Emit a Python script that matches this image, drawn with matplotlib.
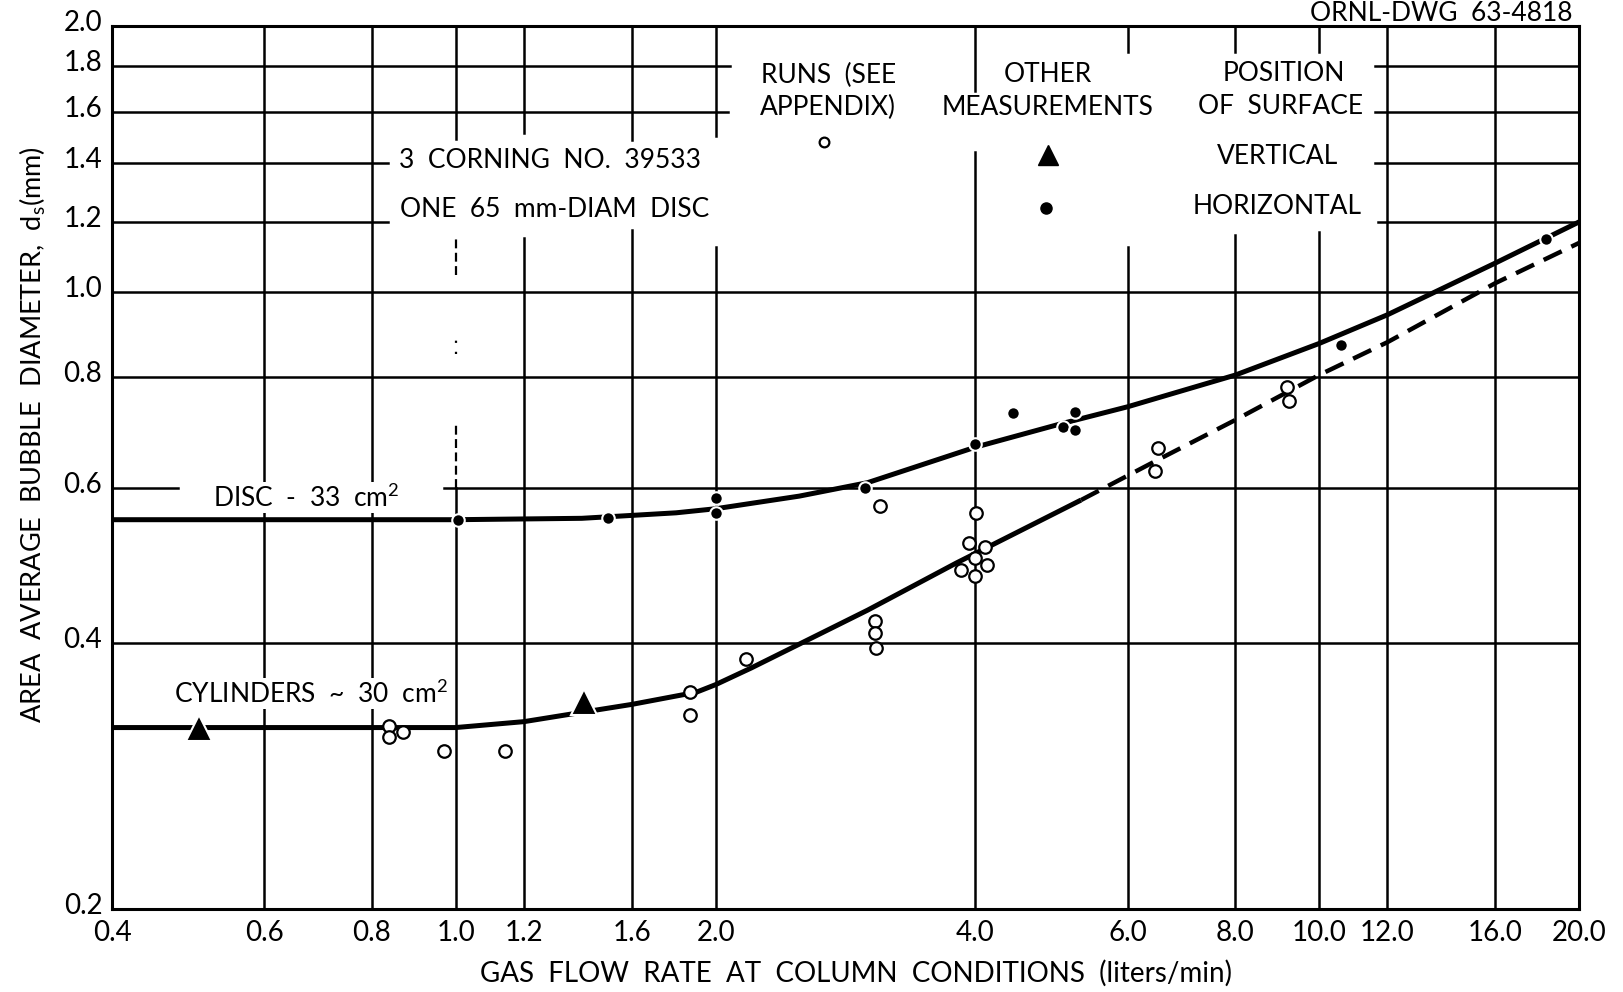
import matplotlib.pyplot as plt
from matplotlib.ticker import FixedLocator, FixedFormatter, NullLocator
from matplotlib.transforms import ScaledTranslation

plt.rcParams['font.family'] = ['Lato', 'DejaVu Sans']
plt.rcParams['mathtext.fontset'] = 'custom'
plt.rcParams['mathtext.rm'] = 'Lato'

# data (liters/min, mm)
disc_x = [0.4, 1.0, 1.4, 1.8, 2.0, 2.5, 3.0, 4.0, 5.0, 6.0, 8.0, 10.0, 12.0, 16.0, 20.0]
disc_y = [0.552, 0.552, 0.554, 0.562, 0.568, 0.587, 0.608, 0.667, 0.708, 0.741, 0.805, 0.874, 0.942, 1.078, 1.20]

cyl_x = [0.4, 1.0, 1.2, 1.4, 1.6, 1.9, 2.0, 2.2, 2.5, 3.0, 3.8, 4.3, 5.3]
cyl_y = [0.321, 0.321, 0.326, 0.334, 0.341, 0.352, 0.359, 0.375, 0.399, 0.436, 0.493, 0.524, 0.581]
cyl_ext_x = [5.3, 6.5, 8.0, 10.0, 12.0, 16.0, 20.0]
cyl_ext_y = [0.581, 0.645, 0.716, 0.805, 0.877, 1.023, 1.136]

runs_x = [0.837, 0.837, 0.869, 0.969, 1.14, 1.87, 1.87, 2.17, 3.10, 3.06, 3.06, 3.07,
          4.01, 3.93, 4.10, 3.99, 3.85, 4.12, 4.00, 6.50, 6.46, 9.19, 9.22]
runs_y = [0.322, 0.313, 0.317, 0.302, 0.302, 0.352, 0.332, 0.384, 0.572, 0.424, 0.411, 0.395,
          0.562, 0.520, 0.514, 0.500, 0.484, 0.490, 0.477, 0.666, 0.626, 0.781, 0.752]

horiz_x = [1.006, 1.50, 2.0, 2.0, 2.98, 4.0, 4.42, 5.05, 5.22, 5.21, 10.6, 18.3]
horiz_y = [0.552, 0.555, 0.584, 0.562, 0.600, 0.673, 0.729, 0.703, 0.731, 0.698, 0.871, 1.148]

vert_x = [0.505, 1.41]
vert_y = [0.321, 0.343]

x_ticks = [0.4, 0.6, 0.8, 1.0, 1.2, 1.6, 2.0, 4.0, 6.0, 8.0, 10.0, 12.0, 16.0, 20.0]
y_ticks = [0.2, 0.4, 0.6, 0.8, 1.0, 1.2, 1.4, 1.6, 1.8, 2.0]

# grid lines are broken where the lettering sits
h_grid = {
    1.8: [(0.4, 2.08), (11.6, 20)],
    1.6: [(0.4, 2.07), (11.6, 20)],
    1.4: [(0.4, 0.835), (11.6, 20)],
    1.2: [(0.4, 0.835), (11.7, 20)],
    1.0: [(0.4, 20)],
    0.8: [(0.4, 20)],
    0.6: [(0.4, 0.477), (0.969, 20)],
    0.4: [(0.4, 20)],
}
v_grid = {
    0.6: [(0.2, 2.0)],
    0.8: [(0.2, 2.0)],
    1.0: [(0.2, 0.60), (1.49, 2.0)],
    1.2: [(0.2, 1.152), (1.513, 2.0)],
    1.6: [(0.2, 1.175), (1.485, 2.0)],
    2.0: [(0.2, 1.125), (1.50, 2.0)],
    4.0: [(0.2, 1.44), (1.69, 2.0)],
    6.0: [(0.2, 1.125), (1.87, 2.0)],
    8.0: [(0.2, 1.16), (1.87, 2.0)],
    10.0: [(0.2, 1.17), (1.87, 2.0)],
    12.0: [(0.2, 2.0)],
    16.0: [(0.2, 2.0)],
}

fig = plt.figure(figsize=(16.24, 9.92), dpi=100)
ax = fig.add_axes([0.069, 0.0837, 0.9033, 0.890])
ax.set_xscale('log')
ax.set_yscale('log')
ax.set_xlim(0.4, 20)
ax.set_ylim(0.2, 2.0)

grid_kw = dict(color='black', lw=1.8, zorder=1)
for yv, segs in h_grid.items():
    for x0, x1 in segs:
        ax.plot([x0, x1], [yv, yv], **grid_kw)
for xv, segs in v_grid.items():
    for y0, y1 in segs:
        ax.plot([xv, xv], [y0, y1], **grid_kw)
# broken bits of the 1.0 line
ax.plot([1.0, 1.0], [0.60, 0.713], color='black', lw=1.6, ls=(0, (4, 2)), zorder=1)
ax.plot([1.0, 1.0], [1.046, 1.152], color='black', lw=1.6, ls=(0, (4, 2)), zorder=1)
ax.plot([1.0, 1.0], [0.85, 0.90], color='black', lw=1.6, ls=(0, (1, 4)), zorder=1)

# curves
ax.plot(disc_x, disc_y, color='black', lw=3.6, solid_capstyle='butt', zorder=3)
ax.plot(cyl_x, cyl_y, color='black', lw=3.6, solid_capstyle='butt', zorder=3)
ax.plot(cyl_ext_x, cyl_ext_y, color='black', lw=3.2, ls=(0, (4.5, 2.4)), zorder=3)

# points
ax.plot(runs_x, runs_y, 'o', ms=9, mfc='white', mec='black', mew=1.6, zorder=4)
ax.plot(horiz_x, horiz_y, 'o', ms=9, mfc='black', mec='white', mew=1.5, zorder=4)
ax.plot(vert_x, vert_y, '^', ms=19, mfc='black', mec='white', mew=1.5, zorder=4)

# key
ax.plot([2.67], [1.478], 'o', ms=7, mfc='white', mec='black', mew=1.6, zorder=4)
ax.plot([4.85], [1.428], '^', ms=15, mfc='black', mec='black', zorder=4)
ax.plot([4.83], [1.244], 'o', ms=8, mfc='black', mec='black', zorder=4)

tk = dict(fontsize=19, ha='center', va='center', zorder=5)
ax.text(2.70, 1.757, 'RUNS  (SEE', **tk)
ax.text(2.70, 1.616, 'APPENDIX)', **tk)
ax.text(4.85, 1.762, 'OTHER', **tk)
ax.text(4.85, 1.616, 'MEASUREMENTS', **tk)
ax.text(9.11, 1.766, 'POSITION', **tk)
ax.text(9.03, 1.620, 'OF  SURFACE', **tk)
ax.text(8.95, 1.424, 'VERTICAL', **tk)
ax.text(8.95, 1.250, 'HORIZONTAL', **tk)

ax.text(0.859, 1.408, '3  CORNING  NO.  39533', fontsize=19, ha='left', va='center')
ax.text(0.863, 1.241, 'ONE  65  mm-DIAM  DISC', fontsize=19, ha='left', va='center')

box = dict(facecolor='white', edgecolor='none', pad=1)
ax.text(0.523, 0.585, 'DISC  -  33  cm$^\\mathregular{2}$', fontsize=19, ha='left',
        va='center', bbox=box, zorder=5)
ax.text(0.472, 0.351, 'CYLINDERS  ~  30  cm$^\\mathregular{2}$', fontsize=19, ha='left',
        va='center', bbox=box, zorder=5)

# axes
ax.xaxis.set_major_locator(FixedLocator(x_ticks))
ax.xaxis.set_major_formatter(FixedFormatter([f'{v:.1f}' for v in x_ticks]))
ax.xaxis.set_minor_locator(NullLocator())
ax.yaxis.set_major_locator(FixedLocator(y_ticks))
ax.yaxis.set_major_formatter(FixedFormatter([f'{v:.1f}' for v in y_ticks]))
ax.yaxis.set_minor_locator(NullLocator())
ax.tick_params(length=0, labelsize=20, pad=8)
ax.tick_params(axis='y', pad=7)
# y labels sit a little above their lines in the drawing
lift = ScaledTranslation(0, 4 / 72, fig.dpi_scale_trans)
for lab in ax.get_yticklabels():
    lab.set_transform(lab.get_transform() + lift)
for s in ax.spines.values():
    s.set_linewidth(2.2)

fig.text(33 / 1624, 1 - 435 / 992, 'AREA  AVERAGE  BUBBLE  DIAMETER,  d$_\\mathregular{s}$(mm)',
         rotation=90, fontsize=19.5, ha='center', va='center')
fig.text(856 / 1624, 1 - 973 / 992, 'GAS  FLOW  RATE  AT  COLUMN  CONDITIONS  (liters/min)',
         fontsize=20, ha='center', va='center')
fig.text(1573 / 1624, 1 - 21 / 992, 'ORNL-DWG  63-4818', fontsize=19, ha='right', va='baseline')

fig.savefig('out.png', dpi=100)
